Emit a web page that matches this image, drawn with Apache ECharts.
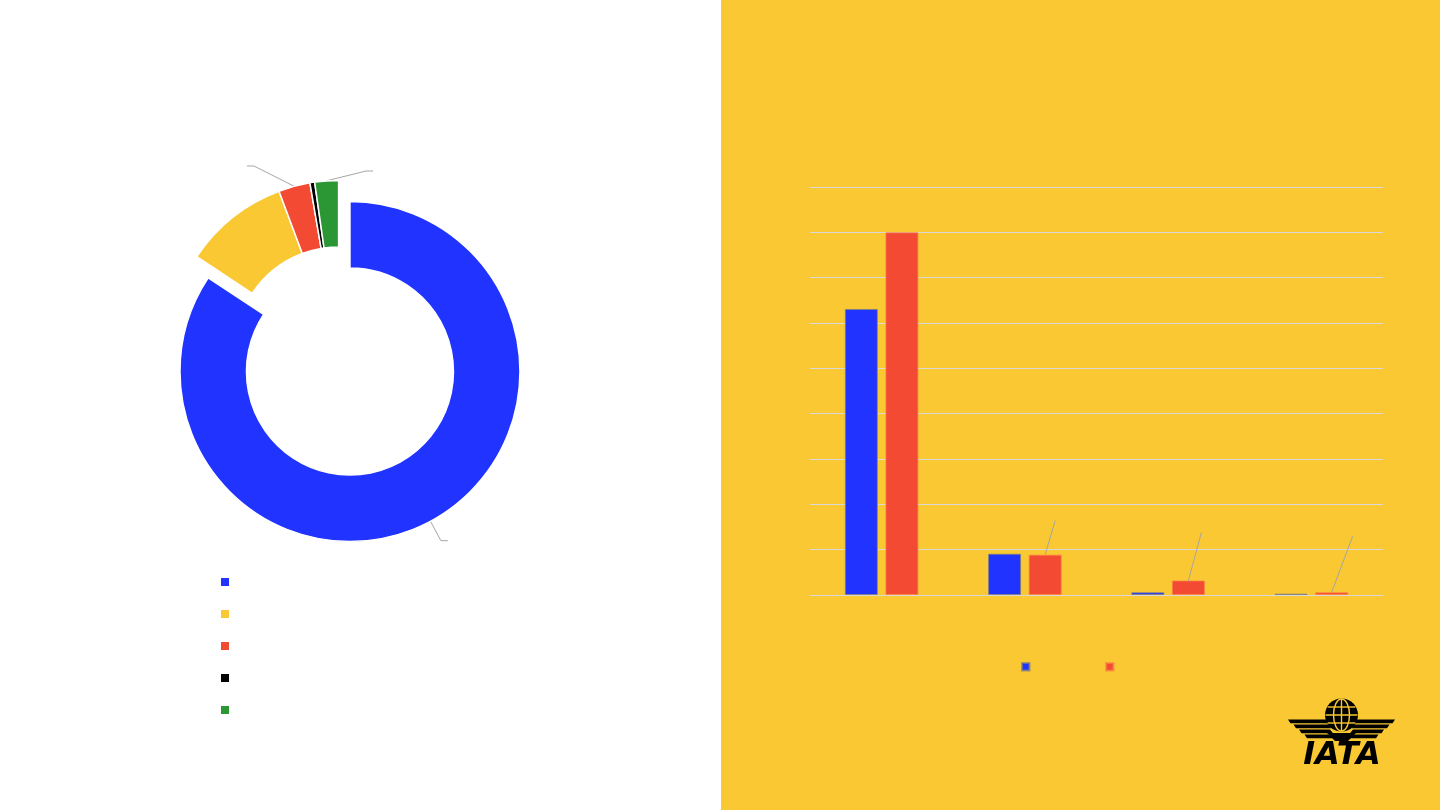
<!DOCTYPE html>
<html><head><meta charset="utf-8">
<script src="https://cdn.jsdelivr.net/npm/echarts@6/dist/echarts.min.js"></script>
<style>html,body{margin:0;padding:0;background:#fff}#c{width:1440px;height:810px}</style>
</head><body><div id="c"></div>
<script>
// ---- data (no visible text in the reference; names are used only as keys) ----
const pieNames = ['Segment A', 'Segment B', 'Segment C', 'Segment D', 'Segment E'];
const pieValues = [84.3, 10.0, 3.0, 0.45, 2.25];
const barCategories = ['Group 1', 'Group 2', 'Group 3', 'Group 4'];
const barSeriesNames = ['Series 1', 'Series 2'];
const barSeries1Values = [6.31, 0.91, 0.06, 0.03];
const barSeries2Values = [8.0, 0.89, 0.32, 0.06];
const yAxisMin = 0, yAxisMax = 9, yAxisStep = 1;

// ---- styling ----
const BLUE = '#2033FF', YELLOW = '#F9C832', RED = '#F24A33', BLACK = '#000000', GREEN = '#2A9734';
const pieColors = [BLUE, YELLOW, RED, BLACK, GREEN];
const GRID = '#D9D9D9', LEADER = '#A6A6A6';
const BAR_W = 33, BAR_GAP = 0.23;

const pieLeaderIdx = [0, 2, 4];
// moved label anchors for the small slices (blue uses the default outside layout)
const pieLabelPos = { 2: [247, 166, 'right'], 4: [373, 171, 'left'] };
const barLeaderOffsets = { 1: [10, 34], 2: [13, 48], 3: [21, 56] };

const pieData = pieNames.map((n, i) => ({
  name: n, value: pieValues[i], selected: i === 0,
  itemStyle: { color: pieColors[i] },
  label: { show: pieLeaderIdx.includes(i) },
  labelLine: { show: pieLeaderIdx.includes(i), length: 22, length2: 7 }
}));

const leaderData = barSeries2Values
  .map((v, i) => [i, v])
  .filter(d => barLeaderOffsets[d[0]] !== undefined);

// logo geometry
const gcx = 1341.5, gcy = 715, gr = 16.5;
const logo = [];
logo.push({ type: 'circle', shape: { cx: gcx, cy: gcy, r: gr }, style: { fill: '#000' }, z: 10 });
logo.push({ type: 'line', shape: { x1: gcx, y1: gcy - gr, x2: gcx, y2: gcy + gr }, style: { stroke: YELLOW, lineWidth: 1.4 }, z: 11 });
logo.push({ type: 'ellipse', shape: { cx: gcx, cy: gcy, rx: 8, ry: gr - 0.5 }, style: { stroke: YELLOW, lineWidth: 1.4, fill: null }, z: 11 });
[-8, 0, 8].forEach(d => {
  const hw = Math.sqrt(gr * gr - d * d) - 0.5;
  logo.push({ type: 'line', shape: { x1: gcx - hw, y1: gcy + d, x2: gcx + hw, y2: gcy + d }, style: { stroke: YELLOW, lineWidth: 1.4 }, z: 11 });
});
for (let i = 0; i < 4; i++) {
  const y0 = 719.5 + i * 5, y1 = y0 + 3.8;
  const l0 = 1288 + i * 5.5, l1 = l0 + 2.5;
  const r0 = 1327 + i * 1.5, r1 = 1330 + i * 1.5;
  const pts = [[l0, y0], [r0, y0], [r1, y1], [l1, y1]];
  logo.push({ type: 'polygon', shape: { points: pts }, style: { fill: '#000' }, z: 10 });
  logo.push({ type: 'polygon', shape: { points: pts.map(p => [2 * gcx - p[0], p[1]]) }, style: { fill: '#000' }, z: 10 });
}
logo.push({ type: 'polygon', shape: { points: [[1327, 733], [1356, 733], [1348, 741], [1335, 741]] }, style: { fill: '#000' }, z: 10 });
logo.push({ type: 'text', style: { text: 'IATA', x: gcx + 0.5, y: 756, align: 'center', verticalAlign: 'middle', font: 'italic bold 32px "DejaVu Sans"', fill: '#000' }, z: 10 });

const option = {
  animation: false,
  backgroundColor: '#FFFFFF',
  graphic: [
    { type: 'rect', shape: { x: 721, y: 0, width: 719, height: 810 }, style: { fill: YELLOW }, z: -10, silent: true },
    ...logo
  ],
  legend: [
    {
      data: pieNames, orient: 'vertical', left: 219, top: 576, icon: 'rect', padding: 0,
      itemWidth: 10, itemHeight: 10, itemGap: 20, selectedMode: false,
      formatter: () => '', textStyle: { fontSize: 8, lineHeight: 8 }
    },
    {
      data: barSeriesNames, orient: 'horizontal', left: 1021, top: 662, icon: 'rect', padding: 0,
      itemWidth: 7.5, itemHeight: 7.5, itemGap: 70.5, selectedMode: false,
      formatter: () => '', textStyle: { fontSize: 6, lineHeight: 6 }
    }
  ],
  grid: { left: 810, right: 57, top: 187, bottom: 215 },
  xAxis: {
    type: 'category', data: barCategories,
    axisLine: { lineStyle: { color: GRID, width: 1 } },
    axisTick: { show: false }, axisLabel: { show: false }
  },
  yAxis: {
    type: 'value', min: yAxisMin, max: yAxisMax, interval: yAxisStep,
    axisLabel: { show: false }, axisLine: { show: false }, axisTick: { show: false },
    splitLine: { lineStyle: { color: GRID, width: 1 } }
  },
  series: [
    {
      type: 'pie', name: 'share',
      center: [338.6, 350.4], radius: [103.5, 170],
      startAngle: 90, clockwise: true,
      selectedMode: 'single', selectedOffset: 24,
      avoidLabelOverlap: false,
      itemStyle: { borderColor: '#FFFFFF', borderWidth: 1.5 },
      emphasis: { disabled: true },
      label: { show: false, position: 'outside', formatter: ' ', fontSize: 4 },
      labelLine: { show: false, length: 22, length2: 7, lineStyle: { color: LEADER, width: 1 } },
      labelLayout: (p) => {
        const pos = pieLabelPos[p.dataIndex];
        if (!pos) return {};
        return { x: pos[0], y: pos[1], align: pos[2], verticalAlign: 'middle' };
      },
      data: pieData
    },
    {
      type: 'bar', name: barSeriesNames[0], data: barSeries1Values,
      barWidth: BAR_W, barGap: (BAR_GAP * 100) + '%',
      itemStyle: { color: BLUE, borderColor: 'rgba(128,128,128,0.7)', borderWidth: 1 },
      emphasis: { disabled: true }
    },
    {
      type: 'bar', name: barSeriesNames[1], data: barSeries2Values,
      barWidth: BAR_W, barGap: (BAR_GAP * 100) + '%',
      itemStyle: { color: RED, borderColor: 'rgba(255,130,70,0.7)', borderWidth: 1 },
      emphasis: { disabled: true }
    },
    {
      // leader lines rising from the tops of the small red bars
      type: 'custom', name: 'leaders', data: leaderData, silent: true, z: 5,
      renderItem: (params, api) => {
        const idx = api.value(0);
        const off = barLeaderOffsets[idx];
        const top = api.coord([idx, api.value(1)]);
        const cx = top[0] + (BAR_W + BAR_W * BAR_GAP) / 2;
        return {
          type: 'line',
          shape: { x1: cx, y1: top[1], x2: cx + off[0], y2: top[1] - off[1] },
          style: { stroke: LEADER, lineWidth: 1 }
        };
      }
    }
  ]
};

const chart = echarts.init(document.getElementById('c'), null, { renderer: 'canvas' });
chart.setOption(option);
</script>
</body></html>
